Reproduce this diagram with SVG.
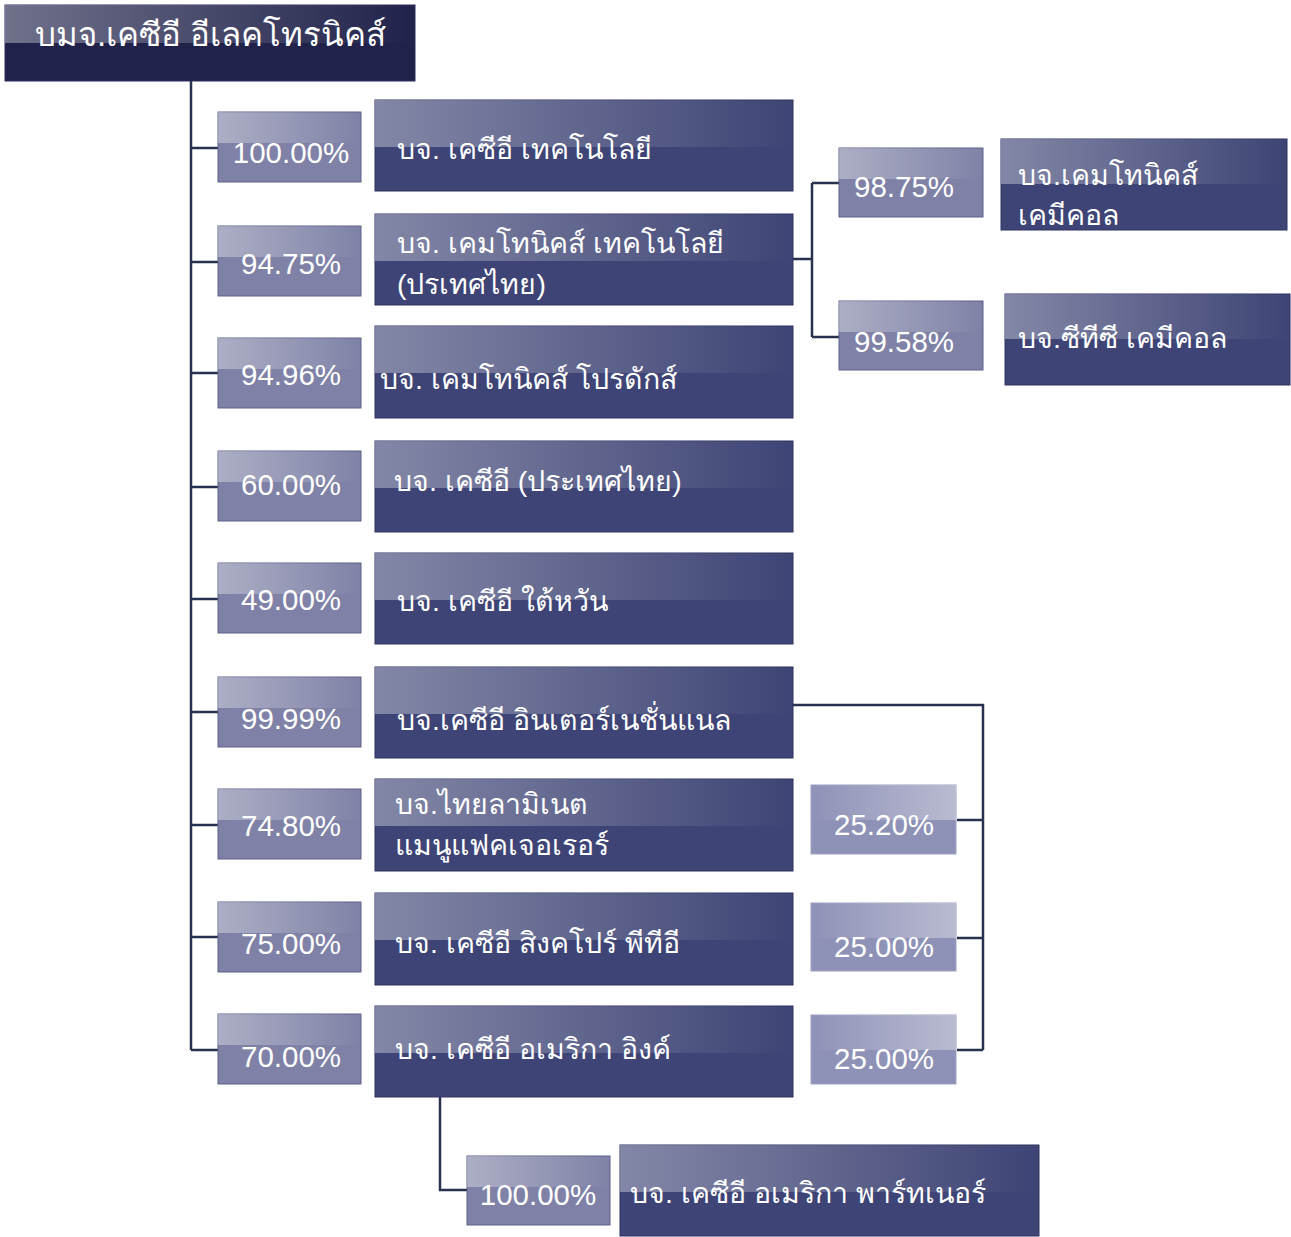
<svg xmlns="http://www.w3.org/2000/svg" width="1291" height="1237" viewBox="0 0 1291 1237">
<defs>
<linearGradient id="gl" x1="0" y1="0" x2="1" y2="0">
<stop offset="0" stop-color="#fff" stop-opacity="0.36"/>
<stop offset="1" stop-color="#fff" stop-opacity="0"/>
</linearGradient>
<linearGradient id="gr" x1="0" y1="0" x2="1" y2="0">
<stop offset="0" stop-color="#fff" stop-opacity="0"/>
<stop offset="1" stop-color="#fff" stop-opacity="0.38"/>
</linearGradient>
</defs>
<style>
text{font-family:"Liberation Sans","Noto Sans",Arial,sans-serif;fill:#fff}
.co{fill:#3e4475;stroke:#2e3360;stroke-width:1}
.pc{fill:#7f82a6;stroke:#5d6088;stroke-width:1}
.pr{fill:#8f92b7;stroke:#9da0c0;stroke-width:1}
.rt{fill:#20224a;stroke:#2c2f58;stroke-width:1}
.ct{font-size:28.5px}
.pt{font-size:29.5px;text-anchor:middle}
.ln{fill:none;stroke:#28314d;stroke-width:2.5}
</style>
<g id="connectors">
<path class="ln" d="M191,45 V1050"/>
<path class="ln" d="M191,148 H218 M191,262 H218 M191,373 H218 M191,487 H218 M191,599 H218 M191,712 H218 M191,825 H218 M191,937 H218 M191,1050 H218"/>
<path class="ln" d="M793,259 H812 M812,183 V337 M812,183 H839 M812,337 H839"/>
<path class="ln" d="M793,705 H983 V1050 M957,820 H983 M957,938 H983 M957,1050 H983"/>
<path class="ln" d="M440,1097 V1190 H467"/>
</g>
<g id="root">
<rect class="rt" x="5" y="5" width="410" height="76"/>
<rect x="5" y="5" width="410" height="38" fill="url(#gl)"/>
<text x="35" y="46" style="font-size:33px">บมจ.เคซีอี อีเลคโทรนิคส์</text>
</g>
<g id="p1"><rect class="pc" x="218" y="112" width="143" height="70"/><rect x="218" y="112" width="143" height="31" fill="url(#gl)"/><text class="pt" x="291" y="163">100.00%</text></g>
<g id="p2"><rect class="pc" x="218" y="226" width="143" height="70"/><rect x="218" y="226" width="143" height="31" fill="url(#gl)"/><text class="pt" x="291" y="274">94.75%</text></g>
<g id="p3"><rect class="pc" x="218" y="338" width="143" height="70"/><rect x="218" y="338" width="143" height="31" fill="url(#gl)"/><text class="pt" x="291" y="385">94.96%</text></g>
<g id="p4"><rect class="pc" x="218" y="451" width="143" height="70"/><rect x="218" y="451" width="143" height="31" fill="url(#gl)"/><text class="pt" x="291" y="495">60.00%</text></g>
<g id="p5"><rect class="pc" x="218" y="563" width="143" height="70"/><rect x="218" y="563" width="143" height="31" fill="url(#gl)"/><text class="pt" x="291" y="610">49.00%</text></g>
<g id="p6"><rect class="pc" x="218" y="677" width="143" height="70"/><rect x="218" y="677" width="143" height="31" fill="url(#gl)"/><text class="pt" x="291" y="729">99.99%</text></g>
<g id="p7"><rect class="pc" x="218" y="789" width="143" height="70"/><rect x="218" y="789" width="143" height="31" fill="url(#gl)"/><text class="pt" x="291" y="836">74.80%</text></g>
<g id="p8"><rect class="pc" x="218" y="902" width="143" height="70"/><rect x="218" y="902" width="143" height="31" fill="url(#gl)"/><text class="pt" x="291" y="954">75.00%</text></g>
<g id="p9"><rect class="pc" x="218" y="1014" width="143" height="70"/><rect x="218" y="1014" width="143" height="31" fill="url(#gl)"/><text class="pt" x="291" y="1067">70.00%</text></g>
<g id="c1"><rect class="co" x="375" y="100" width="418" height="91"/><rect x="375" y="100" width="418" height="47" fill="url(#gl)"/><text class="ct" x="397" y="159">บจ. เคซีอี เทคโนโลยี</text></g>
<g id="c2"><rect class="co" x="375" y="214" width="418" height="91"/><rect x="375" y="214" width="418" height="47" fill="url(#gl)"/><text class="ct" x="397" y="253">บจ. เคมโทนิคส์ เทคโนโลยี</text><text class="ct" x="397" y="294">(ปรเทศไทย)</text></g>
<g id="c3"><rect class="co" x="375" y="326" width="418" height="92"/><rect x="375" y="326" width="418" height="47" fill="url(#gl)"/><text class="ct" x="380" y="389">บจ. เคมโทนิคส์ โปรดักส์</text></g>
<g id="c4"><rect class="co" x="375" y="441" width="418" height="91"/><rect x="375" y="441" width="418" height="47" fill="url(#gl)"/><text class="ct" x="394" y="491">บจ. เคซีอี (ประเทศไทย)</text></g>
<g id="c5"><rect class="co" x="375" y="553" width="418" height="91"/><rect x="375" y="553" width="418" height="47" fill="url(#gl)"/><text class="ct" x="397" y="611">บจ. เคซีอี ใต้หวัน</text></g>
<g id="c6"><rect class="co" x="375" y="667" width="418" height="91"/><rect x="375" y="667" width="418" height="47" fill="url(#gl)"/><text class="ct" x="397" y="730">บจ.เคซีอี อินเตอร์เนชั่นแนล</text></g>
<g id="c7"><rect class="co" x="375" y="779" width="418" height="92"/><rect x="375" y="779" width="418" height="47" fill="url(#gl)"/><text class="ct" x="395" y="814">บจ.ไทยลามิเนต</text><text class="ct" x="395" y="855">แมนูแฟคเจอเรอร์</text></g>
<g id="c8"><rect class="co" x="375" y="893" width="418" height="92"/><rect x="375" y="893" width="418" height="47" fill="url(#gl)"/><text class="ct" x="395" y="953">บจ. เคซีอี สิงคโปร์ พีทีอี</text></g>
<g id="c9"><rect class="co" x="375" y="1006" width="418" height="91"/><rect x="375" y="1006" width="418" height="47" fill="url(#gl)"/><text class="ct" x="395" y="1059">บจ. เคซีอี อเมริกา อิงค์</text></g>
<g id="p10"><rect class="pc" x="839" y="148" width="144" height="69"/><rect x="839" y="148" width="144" height="31" fill="url(#gl)"/><text class="pt" x="904" y="197">98.75%</text></g>
<g id="p11"><rect class="pc" x="839" y="301" width="144" height="69"/><rect x="839" y="301" width="144" height="31" fill="url(#gl)"/><text class="pt" x="904" y="352">99.58%</text></g>
<g id="c10"><rect class="co" x="1001" y="139" width="286" height="91"/><rect x="1001" y="139" width="286" height="45" fill="url(#gl)"/><text class="ct" x="1018" y="185">บจ.เคมโทนิคส์</text><text class="ct" x="1018" y="225">เคมีคอล</text></g>
<g id="c11"><rect class="co" x="1005" y="294" width="285" height="91"/><rect x="1005" y="294" width="285" height="45" fill="url(#gl)"/><text class="ct" x="1018" y="348">บจ.ซีทีซี เคมีคอล</text></g>
<g id="p12"><rect class="pr" x="811" y="785" width="145" height="69"/><rect x="811" y="785" width="145" height="35" fill="url(#gr)"/><text class="pt" x="884" y="835">25.20%</text></g>
<g id="p13"><rect class="pr" x="811" y="903" width="145" height="68"/><rect x="811" y="903" width="145" height="35" fill="url(#gr)"/><text class="pt" x="884" y="957">25.00%</text></g>
<g id="p14"><rect class="pr" x="811" y="1015" width="145" height="69"/><rect x="811" y="1015" width="145" height="35" fill="url(#gr)"/><text class="pt" x="884" y="1069">25.00%</text></g>
<g id="p15"><rect class="pc" x="467" y="1156" width="143" height="69"/><rect x="467" y="1156" width="143" height="31" fill="url(#gl)"/><text class="pt" x="538" y="1205">100.00%</text></g>
<g id="c12"><rect class="co" x="620" y="1145" width="419" height="91"/><rect x="620" y="1145" width="419" height="47" fill="url(#gl)"/><text class="ct" x="630" y="1203">บจ. เคซีอี อเมริกา พาร์ทเนอร์</text></g>
</svg>
